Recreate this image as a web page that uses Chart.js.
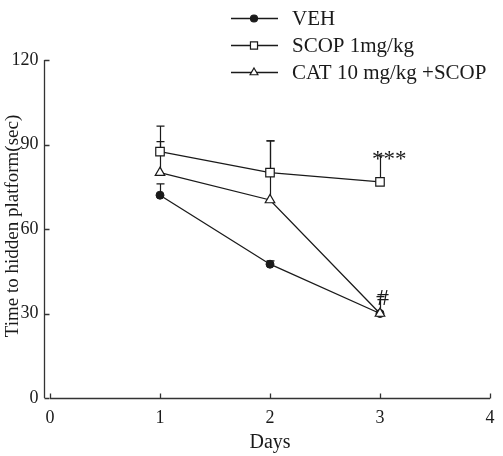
<!DOCTYPE html>
<html>
<head>
<meta charset="utf-8">
<script src="https://cdn.jsdelivr.net/npm/chart.js@4/dist/chart.umd.min.js"></script>
<style>
html,body{margin:0;padding:0;background:#fff;}
#wrap{width:503px;height:456px;}
</style>
</head>
<body>
<div id="wrap"><canvas id="c" width="503" height="456"></canvas></div>
<script>
// ---- data ----
const days = [1, 2, 3];
const seriesNames = ["VEH", "SCOP 1mg/kg", "CAT 10 mg/kg +SCOP"];
const vehValues = [72, 47.5, 30];
const vehErr = [4, 1.2, 0];
const scopValues = [87.5, 80, 76.7];
const scopErr = [9, 11.3, 9.3];
const catValues = [80, 70.3, 30];
const catErr = [11, 21, 6];
const xTicks = [0, 1, 2, 3, 4];
const yTicks = [0, 30, 60, 90, 120];
const xTitle = "Days";
const yTitle = "Time to hidden platform(sec)";
const annotations = [
  {series: 1, index: 2, text: "***"},
  {series: 2, index: 2, text: "#"}
];

const INK = '#1a1a1a';
const FONT = '"Liberation Serif", "Times New Roman", serif';

function pts(vals){ return days.map((d,i)=>({x:d, y:vals[i]})); }
const errs = [vehErr, scopErr, catErr];
const vals = [vehValues, scopValues, catValues];
const legendRadius = [3.5, 5, 4.5];

const customPlugin = {
  id: 'custom',
  beforeDatasetsDraw(chart){
    const ctx = chart.ctx, xs = chart.scales.x, ys = chart.scales.y;
    ctx.save();
    ctx.strokeStyle = INK; ctx.lineWidth = 1.2;
    // error bars
    errs.forEach((e, s) => {
      e.forEach((v, j) => {
        if (!v) return;
        const x = Math.round(xs.getPixelForValue(days[j])) + 0.5;
        const y0 = ys.getPixelForValue(vals[s][j]);
        const y1 = ys.getPixelForValue(vals[s][j] + v);
        ctx.beginPath();
        ctx.moveTo(x, y0); ctx.lineTo(x, y1);
        ctx.moveTo(x - 4, y1); ctx.lineTo(x + 4, y1);
        ctx.stroke();
      });
    });
    // axes
    const ca = chart.chartArea;
    const yAxisX = ca.left - 5.5;
    const xAxisY = Math.round(ys.getPixelForValue(0)) + 0.5;
    ctx.lineWidth = 1.3;
    ctx.strokeStyle = '#333';
    ctx.beginPath();
    ctx.moveTo(yAxisX, ys.getPixelForValue(yTicks[0]));
    ctx.lineTo(yAxisX, ys.getPixelForValue(yTicks[yTicks.length-1]));
    yTicks.forEach(t => {
      const y = Math.round(ys.getPixelForValue(t)) + 0.5;
      ctx.moveTo(yAxisX, y); ctx.lineTo(yAxisX + 5, y);
    });
    ctx.moveTo(xs.getPixelForValue(xTicks[0]), xAxisY);
    ctx.lineTo(xs.getPixelForValue(xTicks[xTicks.length-1]), xAxisY);
    xTicks.forEach(t => {
      const x = Math.round(xs.getPixelForValue(t)) + 0.5;
      ctx.moveTo(x, xAxisY); ctx.lineTo(x, xAxisY - 5);
    });
    ctx.stroke();
    // tick labels
    ctx.fillStyle = INK;
    ctx.font = '18px ' + FONT;
    ctx.textAlign = 'right'; ctx.textBaseline = 'middle';
    yTicks.forEach(t => ctx.fillText(String(t), yAxisX - 6, ys.getPixelForValue(t)));
    ctx.textAlign = 'center'; ctx.textBaseline = 'top';
    xTicks.forEach(t => ctx.fillText(String(t), xs.getPixelForValue(t), xAxisY + 11));
    // titles
    ctx.font = '20px ' + FONT;
    ctx.fillText(xTitle, (xs.getPixelForValue(xTicks[0]) + xs.getPixelForValue(xTicks[xTicks.length-1])) / 2, xAxisY + 34);
    ctx.save();
    ctx.translate(13, (ca.top + ca.bottom) / 2 - 3);
    ctx.rotate(-Math.PI / 2);
    ctx.textBaseline = 'middle';
    ctx.font = '19px ' + FONT;
    ctx.fillText(yTitle, 0, 0);
    ctx.restore();
    ctx.restore();
  },
  afterDraw(chart){
    const ctx = chart.ctx, xs = chart.scales.x, ys = chart.scales.y;
    ctx.save();
    // annotations
    ctx.fillStyle = INK;
    annotations.forEach(a => {
      const x = xs.getPixelForValue(days[a.index]);
      const top = ys.getPixelForValue(vals[a.series][a.index] + errs[a.series][a.index]);
      ctx.textAlign = 'left'; ctx.textBaseline = 'alphabetic';
      if (a.text === '***') {
        ctx.font = '23px ' + FONT;
        ctx.fillText(a.text, x - 8, top + 10);
      } else {
        ctx.font = '24px ' + FONT;
        ctx.fillText(a.text, x - 3, top + 8);
      }
    });
    // legend
    const rows = [18, 45, 72];
    chart.data.datasets.forEach((ds, i) => {
      const y = rows[i] + 0.5;
      ctx.strokeStyle = INK; ctx.lineWidth = 1.3;
      ctx.beginPath(); ctx.moveTo(231, y); ctx.lineTo(278, y); ctx.stroke();
      ctx.fillStyle = ds.pointBackgroundColor; ctx.strokeStyle = INK; ctx.lineWidth = 1.2;
      Chart.helpers.drawPoint(ctx, {pointStyle: ds.pointStyle, radius: legendRadius[i], borderWidth: 1.2}, 254, y);
      ctx.fillStyle = INK;
      ctx.font = '21px ' + FONT;
      ctx.textAlign = 'left'; ctx.textBaseline = 'middle';
      ctx.fillText(seriesNames[i], 292, rows[i] + 1);
    });
    ctx.restore();
  }
};

new Chart(document.getElementById('c'), {
  type: 'line',
  data: {
    datasets: [
      {label: seriesNames[0], data: pts(vehValues), borderColor: INK, borderWidth: 1.3,
       pointStyle: 'circle', pointRadius: 4, pointBackgroundColor: INK, pointBorderColor: INK, pointBorderWidth: 1, tension: 0, clip: false, order: 3},
      {label: seriesNames[1], data: pts(scopValues), borderColor: INK, borderWidth: 1.3,
       pointStyle: 'rect', pointRadius: 6, pointBackgroundColor: '#fff', pointBorderColor: INK, pointBorderWidth: 1.2, tension: 0, clip: false, order: 2},
      {label: seriesNames[2], data: pts(catValues), borderColor: INK, borderWidth: 1.3,
       pointStyle: 'triangle', pointRadius: 5.5, pointBackgroundColor: '#fff', pointBorderColor: INK, pointBorderWidth: 1.2, tension: 0, clip: false, order: 1}
    ]
  },
  options: {
    responsive: false,
    animation: false,
    layout: {padding: {left: 50, right: 13, top: 60, bottom: 58}},
    plugins: {legend: {display: false}, tooltip: {enabled: false}},
    scales: {
      x: {type: 'linear', min: 0, max: 4, display: false},
      y: {type: 'linear', min: 0, max: 120, display: false}
    }
  },
  plugins: [customPlugin]
});
</script>
</body>
</html>
